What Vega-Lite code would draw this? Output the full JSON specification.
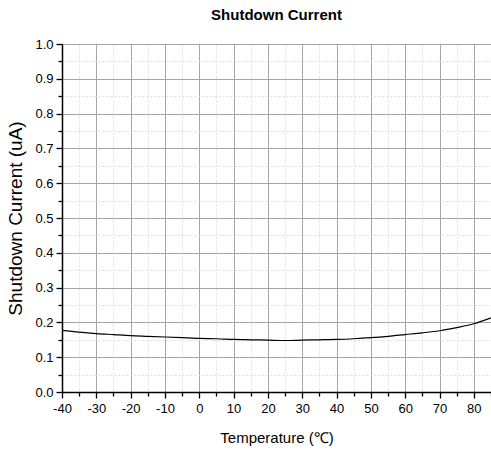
{
  "$schema": "https://vega.github.io/schema/vega-lite/v6.json",
  "autosize": {"type": "none"},
  "width": 429,
  "height": 348,
  "padding": {"left": 62, "top": 44, "right": 0, "bottom": 61},
  "background": "white",
  "config": {
    "view": {"stroke": null},
    "font": "Liberation Sans"
  },
  "title": {
    "text": "Shutdown Current",
    "fontSize": 15,
    "fontWeight": "bold",
    "font": "Liberation Sans",
    "color": "black",
    "anchor": "middle",
    "offset": 15
  },
  "data": {
    "values": [
      {"t": -40, "i": 0.177},
      {"t": -35, "i": 0.172},
      {"t": -30, "i": 0.168},
      {"t": -25, "i": 0.165},
      {"t": -20, "i": 0.162},
      {"t": -15, "i": 0.160},
      {"t": -10, "i": 0.158},
      {"t": -5, "i": 0.156},
      {"t": 0, "i": 0.154},
      {"t": 5, "i": 0.153},
      {"t": 10, "i": 0.151},
      {"t": 15, "i": 0.150},
      {"t": 20, "i": 0.149},
      {"t": 25, "i": 0.148},
      {"t": 30, "i": 0.149},
      {"t": 35, "i": 0.150},
      {"t": 40, "i": 0.151},
      {"t": 45, "i": 0.153},
      {"t": 50, "i": 0.156},
      {"t": 55, "i": 0.160},
      {"t": 60, "i": 0.165},
      {"t": 65, "i": 0.170},
      {"t": 70, "i": 0.176},
      {"t": 75, "i": 0.185},
      {"t": 80, "i": 0.196},
      {"t": 85, "i": 0.213}
    ]
  },
  "mark": {"type": "line", "color": "black", "strokeWidth": 1.2, "interpolate": "monotone", "clip": true},
  "encoding": {
    "x": {
      "field": "t",
      "type": "quantitative",
      "scale": {"domain": [-40, 85], "nice": false, "zero": false},
      "axis": {
        "title": "Temperature (℃)",
        "titleFontSize": 15,
        "titleFontWeight": "normal",
        "titleColor": "black",
        "titleFont": "Liberation Sans",
        "titlePadding": 15,
        "values": [-40,-35,-30,-25,-20,-15,-10,-5,0,5,10,15,20,25,30,35,40,45,50,55,60,65,70,75,80,85],
        "labelExpr": "datum.value % 10 === 0 ? '' + datum.value : ''",
        "labelFontSize": 13,
        "labelColor": "black",
        "labelPadding": 4,
        "labelFlush": false,
        "domainColor": "black",
        "domainWidth": 1.5,
        "tickColor": "black",
        "tickWidth": 1.3,
        "tickSize": {"condition": {"test": "datum.value % 10 === 0", "value": 6}, "value": 4},
        "grid": true,
        "gridColor": {"condition": {"test": "datum.value % 10 === 0", "value": "#a6a6a6"}, "value": "#dddddd"},
        "gridDash": {"condition": {"test": "datum.value % 10 === 0", "value": []}, "value": [2, 2]},
        "gridWidth": 1
      }
    },
    "y": {
      "field": "i",
      "type": "quantitative",
      "scale": {"domain": [0, 1], "nice": false},
      "axis": {
        "title": "Shutdown Current (uA)",
        "titleFontSize": 19,
        "titleFontWeight": "normal",
        "titleColor": "black",
        "titleFont": "Liberation Sans",
        "titlePadding": 9,
        "values": [0,0.05,0.1,0.15,0.2,0.25,0.3,0.35,0.4,0.45,0.5,0.55,0.6,0.65,0.7,0.75,0.8,0.85,0.9,0.95,1.0],
        "format": ".1f",
        "labelExpr": "round(datum.value*100) % 10 === 0 ? datum.label : ''",
        "labelFontSize": 13,
        "labelColor": "black",
        "labelPadding": 3,
        "labelFlush": false,
        "domainColor": "black",
        "domainWidth": 1.5,
        "tickColor": "black",
        "tickWidth": 1.3,
        "tickSize": {"condition": {"test": "round(datum.value*100) % 10 === 0", "value": 6}, "value": 4},
        "grid": true,
        "gridColor": {"condition": {"test": "round(datum.value*100) % 10 === 0", "value": "#a6a6a6"}, "value": "#dddddd"},
        "gridDash": {"condition": {"test": "round(datum.value*100) % 10 === 0", "value": []}, "value": [2, 2]},
        "gridWidth": 1
      }
    }
  }
}
